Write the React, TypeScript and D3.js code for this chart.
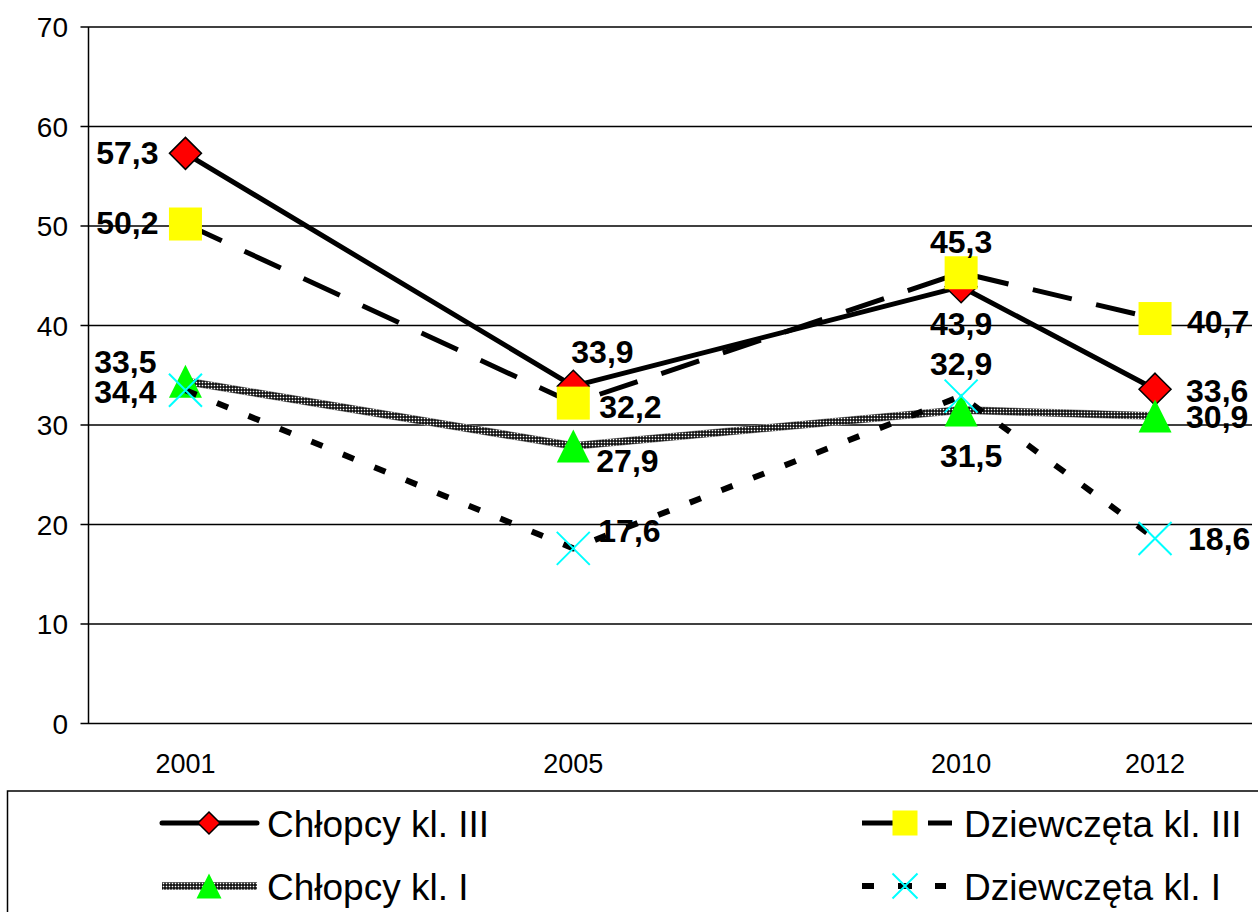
import React from 'react';
import * as d3 from 'd3';

// x axis slots: the chart leaves empty categories between the surveyed years
const axisSlots = ['2001', '', '2005', '', '2010', '2012'];
const years = ['2001', '2005', '2010', '2012'];
const yTicks = [0, 10, 20, 30, 40, 50, 60, 70];

const chlopcyKl3 = [57.3, 33.9, 43.9, 33.6];
const dziewczetaKl3 = [50.2, 32.2, 45.3, 40.7];
const chlopcyKl1 = [34.4, 27.9, 31.5, 30.9];
const dziewczetaKl1 = [33.5, 17.6, 32.9, 18.6];

type Marker = 'diamond' | 'square' | 'triangle' | 'cross';
type Anchor = 'start' | 'middle' | 'end';

interface Series {
  name: string;
  values: number[];
  marker: Marker;
  stroke: string;
  width: number;
  dash?: string;
  cap: 'round' | 'butt';
  // label placement relative to the point: [dx, dy, anchor]
  labels: [number, number, Anchor][];
}

const series: Series[] = [
  {
    name: 'Chłopcy kl. III', values: chlopcyKl3, marker: 'diamond', stroke: '#000', width: 5, cap: 'round',
    labels: [[-27, 11, 'end'], [-2, -23, 'start'], [0, 48, 'middle'], [31, 13, 'start']],
  },
  {
    name: 'Dziewczęta kl. III', values: dziewczetaKl3, marker: 'square', stroke: '#000', width: 5, dash: '40 25', cap: 'butt',
    labels: [[-27, 10, 'end'], [26, 15, 'start'], [0, -20, 'middle'], [32, 14, 'start']],
  },
  {
    name: 'Chłopcy kl. I', values: chlopcyKl1, marker: 'triangle', stroke: 'url(#checker)', width: 7, cap: 'butt',
    labels: [[-29, 22, 'end'], [23, 26, 'start'], [10, 57, 'middle'], [31, 12, 'start']],
  },
  {
    name: 'Dziewczęta kl. I', values: dziewczetaKl1, marker: 'cross', stroke: '#000', width: 6, dash: '12 22', cap: 'butt',
    labels: [[-29, -17, 'end'], [25, -6, 'start'], [0, -21, 'middle'], [33, 12, 'start']],
  },
];

const W = 1258;
const H = 912;
const left = 88.5;
const right = 1252;
const top = 27;
const bottom = 723.5;
const font = '"Liberation Sans", Arial, sans-serif';

const x = d3.scaleBand<number>().domain(d3.range(axisSlots.length)).range([left, right]);
const xPos = (year: string) => (x(axisSlots.indexOf(year)) as number) + x.bandwidth() / 2;
const y = d3.scaleLinear().domain([0, 70]).range([bottom, top]);

function MarkerShape({ type, cx, cy, s }: { type: Marker; cx: number; cy: number; s: number }) {
  const h = s / 2;
  if (type === 'diamond') {
    return (
      <path d={`M${cx},${cy - h}L${cx + h},${cy}L${cx},${cy + h}L${cx - h},${cy}Z`}
        fill="#ff0000" stroke="#000" strokeWidth={1.5} />
    );
  }
  if (type === 'square') {
    return <rect x={cx - h} y={cy - h} width={s} height={s} fill="#ffff00" />;
  }
  if (type === 'triangle') {
    return <path d={`M${cx},${cy - h}L${cx + h},${cy + h}L${cx - h},${cy + h}Z`} fill="#00ff00" />;
  }
  return (
    <path d={`M${cx - h},${cy - h}L${cx + h},${cy + h}M${cx + h},${cy - h}L${cx - h},${cy + h}`}
      stroke="#00ffff" strokeWidth={2} fill="none" />
  );
}

export default function App() {
  const line = d3.line<number>()
    .x((_, i) => xPos(years[i]))
    .y(d => y(d));

  const legendRows = [823, 886];
  const legendCols = [
    { lineX: [162, 257], markX: 209, textX: 267 },
    { lineX: [862, 952], markX: 905, textX: 964 },
  ];

  return (
    <svg width={W} height={H} style={{ position: 'absolute', left: 0, top: 0, background: '#fff' }}
      fontFamily={font}>
      <defs>
        <pattern id="checker" width={3} height={3} patternUnits="userSpaceOnUse">
          <rect width={3} height={3} fill="#000" />
          <rect x={0.7} y={0.7} width={1.6} height={1.6} fill="#fff" />
        </pattern>
      </defs>
      <rect width={W} height={H} fill="#fff" />

      {/* grid and y axis */}
      {yTicks.map(t => (
        <g key={t}>
          <line x1={left - 8} x2={right} y1={y(t)} y2={y(t)} stroke="#000" strokeWidth={1.5} />
          <text x={68} y={y(t) + 10} fontSize={28} textAnchor="end">{t}</text>
        </g>
      ))}
      <line x1={left} x2={left} y1={top} y2={bottom} stroke="#000" strokeWidth={1.5} />

      {/* x axis labels */}
      {axisSlots.map((c, i) => c && (
        <text key={i} x={(x(i) as number) + x.bandwidth() / 2} y={773} fontSize={27} textAnchor="middle">{c}</text>
      ))}

      {/* series */}
      {series.map(s => (
        <g key={s.name}>
          {s.marker === 'triangle' && (
            <path d={line(s.values) || ''} fill="none" stroke="#999" strokeWidth={s.width + 1} />
          )}
          <path d={line(s.values) || ''} fill="none" stroke={s.stroke} strokeWidth={s.width}
            strokeDasharray={s.dash} strokeLinecap={s.cap} strokeLinejoin="round" />
          {s.values.map((v, i) => (
            <MarkerShape key={i} type={s.marker} cx={xPos(years[i])} cy={y(v)} s={s.marker === 'diamond' ? 32 : 33} />
          ))}
        </g>
      ))}

      {/* data labels */}
      {series.map(s => s.values.map((v, i) => {
        const [dx, dy, anchor] = s.labels[i];
        return (
          <text key={s.name + i} x={xPos(years[i]) + dx} y={y(v) + dy} fontSize={32} fontWeight="bold"
            textAnchor={anchor}>{String(v).replace('.', ',')}</text>
        );
      }))}

      {/* legend */}
      <rect x={7.5} y={791} width={1300} height={200} fill="none" stroke="#000" strokeWidth={1.5} />
      {series.map((s, k) => {
        const col = legendCols[k % 2];
        const ly = legendRows[Math.floor(k / 2)];
        return (
          <g key={'lg' + s.name}>
            {s.marker === 'triangle' && (
              <line x1={col.lineX[0]} x2={col.lineX[1]} y1={ly} y2={ly} stroke="#999" strokeWidth={s.width + 1} />
            )}
            {s.dash ? (
              s.marker === 'square' ? (
                <g stroke="#000" strokeWidth={s.width}>
                  <line x1={col.lineX[0]} x2={893} y1={ly} y2={ly} />
                  <line x1={928} x2={col.lineX[1]} y1={ly} y2={ly} />
                </g>
              ) : (
                <g stroke="#000" strokeWidth={s.width}>
                  <line x1={col.lineX[0]} x2={874} y1={ly} y2={ly} />
                  <line x1={898} x2={912} y1={ly} y2={ly} />
                  <line x1={935} x2={946} y1={ly} y2={ly} />
                </g>
              )
            ) : (
              <line x1={col.lineX[0]} x2={col.lineX[1]} y1={ly} y2={ly} stroke={s.stroke}
                strokeWidth={s.width} strokeLinecap={s.cap} />
            )}
            <MarkerShape type={s.marker} cx={col.markX} cy={ly} s={s.marker === 'diamond' ? 22 : 25} />
            <text x={col.textX} y={ly + 14} fontSize={37}>{s.name}</text>
          </g>
        );
      })}
    </svg>
  );
}
